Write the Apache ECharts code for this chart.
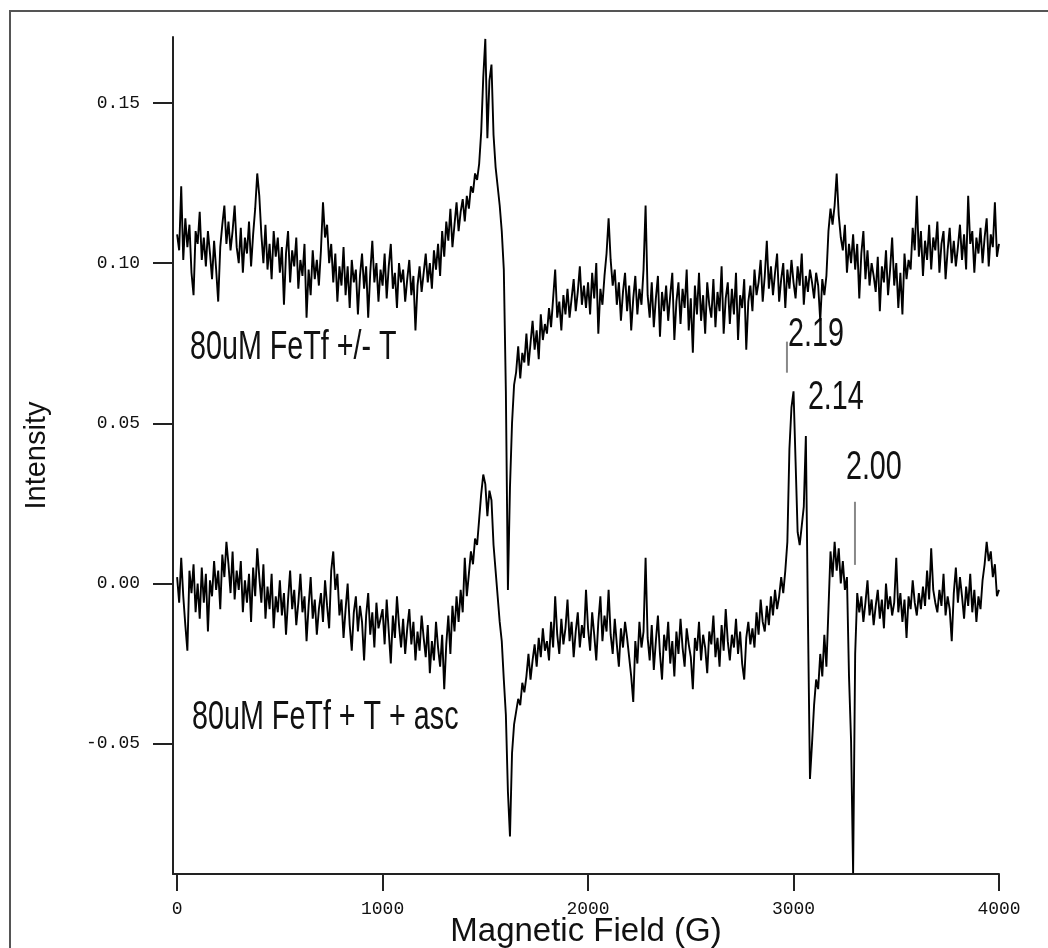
<!DOCTYPE html>
<html><head><meta charset="utf-8">
<script src="https://cdn.jsdelivr.net/npm/echarts@6/dist/echarts.min.js"></script>
<style>html,body{margin:0;padding:0;background:#fff;overflow:hidden}#c{width:1048px;height:948px}</style>
</head><body><div id="c"></div>
<script>
// Magnetic field sampling step (G); spectra start at 0 G
const fieldStepG = 10;
const xTicks = [0, 1000, 2000, 3000, 4000];
const yTicks = [-0.05, 0, 0.05, 0.10, 0.15];
const xTitle = 'Magnetic Field (G)';
const yTitle = 'Intensity';
const upperName = '80uM FeTf +/- T';
const lowerName = '80uM FeTf + T + asc';

// Upper spectrum: 80uM FeTf +/- T (0..4000 G)
const upperTrace = [
0.109,0.104,0.124,0.101,0.114,0.105,0.112,0.097,0.090,0.110,
0.106,0.116,0.101,0.108,0.099,0.110,0.103,0.095,0.107,0.098,
0.088,0.105,0.112,0.118,0.106,0.113,0.104,0.110,0.118,0.105,
0.100,0.111,0.097,0.108,0.103,0.113,0.099,0.109,0.117,0.128,
0.121,0.109,0.100,0.112,0.098,0.106,0.095,0.110,0.102,0.108,
0.097,0.105,0.087,0.103,0.110,0.094,0.104,0.099,0.108,0.092,
0.101,0.096,0.106,0.083,0.098,0.090,0.104,0.095,0.101,0.093,
0.104,0.119,0.108,0.112,0.100,0.106,0.094,0.103,0.088,0.099,
0.093,0.105,0.090,0.099,0.086,0.101,0.094,0.098,0.084,0.096,
0.103,0.092,0.099,0.083,0.097,0.107,0.094,0.100,0.088,0.098,
0.093,0.103,0.089,0.099,0.106,0.092,0.097,0.086,0.100,0.094,
0.098,0.088,0.095,0.101,0.090,0.096,0.079,0.093,0.099,0.091,
0.097,0.103,0.094,0.100,0.092,0.104,0.098,0.106,0.096,0.110,
0.102,0.113,0.107,0.117,0.105,0.112,0.119,0.110,0.116,0.120,
0.113,0.121,0.117,0.124,0.122,0.128,0.126,0.131,0.141,0.158,
0.170,0.139,0.157,0.162,0.140,0.130,0.124,0.118,0.110,0.098,
0.060,-0.002,0.030,0.050,0.062,0.066,0.074,0.064,0.072,0.069,
0.078,0.068,0.075,0.082,0.073,0.079,0.070,0.084,0.076,0.081,
0.078,0.086,0.080,0.089,0.098,0.083,0.088,0.079,0.090,0.084,
0.092,0.083,0.089,0.095,0.085,0.091,0.099,0.087,0.093,0.086,
0.094,0.084,0.097,0.089,0.100,0.078,0.092,0.087,0.096,0.103,
0.114,0.101,0.093,0.098,0.087,0.094,0.082,0.091,0.097,0.085,
0.093,0.079,0.089,0.096,0.084,0.092,0.087,0.098,0.118,0.090,
0.083,0.094,0.080,0.089,0.096,0.077,0.091,0.085,0.093,0.082,
0.090,0.097,0.076,0.088,0.094,0.081,0.092,0.086,0.098,0.079,
0.089,0.072,0.093,0.084,0.097,0.082,0.090,0.078,0.094,0.087,
0.083,0.095,0.080,0.091,0.085,0.099,0.078,0.089,0.094,0.081,
0.092,0.084,0.097,0.076,0.090,0.086,0.095,0.073,0.088,0.093,
0.085,0.098,0.090,0.094,0.101,0.088,0.096,0.107,0.092,0.099,
0.090,0.097,0.103,0.088,0.095,0.100,0.086,0.098,0.092,0.101,
0.094,0.089,0.099,0.093,0.103,0.087,0.096,0.091,0.098,0.094,
0.089,0.097,0.093,0.082,0.095,0.090,0.096,0.110,0.117,0.112,
0.118,0.128,0.115,0.108,0.104,0.112,0.097,0.106,0.100,0.109,
0.098,0.106,0.089,0.103,0.110,0.095,0.104,0.093,0.100,0.096,
0.091,0.102,0.085,0.099,0.094,0.104,0.090,0.098,0.108,0.093,
0.100,0.086,0.097,0.084,0.103,0.095,0.101,0.098,0.111,0.104,
0.121,0.102,0.110,0.096,0.107,0.101,0.112,0.098,0.108,0.104,
0.113,0.097,0.106,0.110,0.095,0.104,0.111,0.100,0.107,0.099,
0.105,0.112,0.101,0.109,0.098,0.121,0.106,0.110,0.097,0.108,
0.103,0.111,0.100,0.108,0.114,0.099,0.109,0.105,0.119,0.102,
0.106
];

// Lower spectrum: 80uM FeTf + T + asc (0..4000 G)
const lowerTrace = [
0.002,-0.006,0.008,-0.004,-0.013,-0.021,0.004,-0.003,0.006,-0.009,
0.000,-0.011,0.005,-0.006,0.003,-0.015,0.001,-0.004,0.007,-0.002,
0.004,-0.008,0.009,0.002,0.013,0.006,-0.003,0.010,-0.005,0.004,
-0.002,0.007,-0.009,0.001,-0.006,0.003,-0.012,0.005,-0.004,0.011,
0.002,-0.006,0.006,-0.011,-0.001,-0.008,0.003,-0.014,-0.004,-0.009,
0.001,-0.010,-0.003,-0.016,-0.005,0.004,-0.008,-0.002,-0.013,-0.006,
0.003,-0.009,-0.004,-0.018,-0.007,0.002,-0.011,-0.005,-0.016,-0.008,
-0.003,-0.012,0.001,-0.007,-0.014,0.004,0.010,-0.002,0.003,-0.010,
-0.005,-0.017,-0.008,0.000,-0.013,-0.021,-0.009,-0.004,-0.015,-0.007,
-0.012,-0.024,-0.010,-0.003,-0.016,-0.009,-0.020,-0.006,-0.014,-0.011,
-0.008,-0.019,-0.005,-0.015,-0.025,-0.010,-0.017,-0.004,-0.013,-0.020,
-0.011,-0.022,-0.014,-0.008,-0.019,-0.012,-0.024,-0.015,-0.021,-0.010,
-0.017,-0.023,-0.013,-0.028,-0.018,-0.024,-0.012,-0.020,-0.026,-0.016,
-0.033,-0.019,-0.010,-0.022,-0.007,-0.015,-0.004,-0.012,-0.002,-0.009,
0.008,-0.004,0.003,0.010,0.006,0.014,0.012,0.020,0.028,0.034,
0.031,0.021,0.029,0.026,0.012,0.004,-0.004,-0.012,-0.018,-0.030,
-0.041,-0.065,-0.079,-0.053,-0.044,-0.040,-0.036,-0.038,-0.031,-0.034,
-0.029,-0.022,-0.030,-0.024,-0.019,-0.026,-0.017,-0.023,-0.014,-0.021,
-0.018,-0.024,-0.012,-0.020,-0.004,-0.016,-0.022,-0.011,-0.019,-0.014,
-0.005,-0.018,-0.012,-0.023,-0.015,-0.009,-0.020,-0.013,-0.017,-0.002,
-0.014,-0.021,-0.009,-0.016,-0.024,-0.012,-0.004,-0.018,-0.010,-0.015,
-0.002,-0.016,-0.022,-0.011,-0.019,-0.026,-0.014,-0.020,-0.012,-0.017,
-0.023,-0.029,-0.037,-0.018,-0.025,-0.012,-0.020,-0.015,0.008,-0.017,
-0.024,-0.013,-0.027,-0.018,-0.010,-0.022,-0.030,-0.016,-0.021,-0.012,
-0.025,-0.018,-0.029,-0.015,-0.022,-0.011,-0.020,-0.026,-0.014,-0.019,
-0.023,-0.033,-0.017,-0.021,-0.012,-0.024,-0.016,-0.020,-0.028,-0.015,
-0.019,-0.010,-0.023,-0.017,-0.026,-0.013,-0.021,-0.008,-0.018,-0.024,
-0.016,-0.020,-0.011,-0.022,-0.015,-0.025,-0.030,-0.017,-0.012,-0.019,
-0.014,-0.020,-0.009,-0.016,-0.005,-0.012,-0.015,-0.007,-0.013,-0.004,
-0.010,-0.002,-0.008,-0.004,0.002,-0.003,0.004,0.013,0.042,0.055,
0.060,0.038,0.016,0.012,0.018,0.024,0.046,-0.010,-0.061,-0.050,
-0.038,-0.030,-0.033,-0.022,-0.029,-0.016,-0.026,-0.008,0.010,0.002,
0.013,0.004,0.011,0.000,0.007,-0.002,0.002,-0.029,-0.049,-0.0905,
-0.022,-0.003,-0.009,-0.004,-0.012,-0.006,0.001,-0.010,-0.005,-0.013,
-0.007,-0.002,-0.011,-0.005,-0.014,0.000,-0.008,-0.004,-0.010,-0.006,
0.008,-0.009,-0.003,-0.012,-0.005,-0.017,-0.004,-0.008,0.001,-0.006,
-0.010,-0.003,-0.008,-0.001,-0.007,0.004,-0.005,0.011,-0.002,-0.006,
-0.009,-0.002,-0.007,0.003,-0.010,-0.004,-0.008,-0.018,-0.003,0.005,
-0.006,0.002,-0.004,-0.011,-0.001,-0.007,0.003,-0.009,-0.002,-0.012,
-0.004,-0.008,0.001,0.006,0.013,0.007,0.010,0.002,0.006,-0.004,
-0.002
];

// g-value annotations: label text, anchor [field G, intensity] of label's left-middle
const gLabels = ['2.19', '2.14', '2.00'];
const gLabelAnchors = [[2973, 0.0777], [3070, 0.0580], [3255, 0.0361]];
// g-value marker ticks: [field G, top intensity, bottom intensity]
const gMarkers = [[2968, 0.0755, 0.0658], [3299, 0.0255, 0.0058]];
// sample-name anchors [field G, intensity] (left-middle of text)
const nameAnchors = [[63, 0.0736], [73, -0.0419]];

const field = upperTrace.map((_, i) => i * fieldStepG);
const upperData = field.map((f, i) => [f, upperTrace[i]]);
const lowerData = field.map((f, i) => [f, lowerTrace[i]]);

const chart = echarts.init(document.getElementById('c'), null, {renderer: 'canvas'});
const axisColor = '#222';
chart.setOption({
  animation: false,
  backgroundColor: '#fff',
  grid: {left: 173, right: 49, top: 37, bottom: 74, containLabel: false, outerBoundsMode: 'none'},
  xAxis: {
    type: 'value', min: -20, max: 4000,
    axisLine: {show: true, onZero: false, lineStyle: {color: axisColor, width: 2}},
    axisTick: {show: true, customValues: xTicks, length: 17, lineStyle: {color: axisColor, width: 2}},
    axisLabel: {customValues: xTicks, margin: 26, fontFamily: 'Liberation Mono', fontSize: 18, color: '#111',
      formatter: v => String(v)},
    splitLine: {show: false},
    name: xTitle, nameLocation: 'middle', nameGap: 41, nameMoveOverlap: false,
    nameTextStyle: {fontFamily: 'Liberation Sans', fontSize: 33, color: '#111'}
  },
  yAxis: {
    type: 'value', min: -0.0907, max: 0.1706,
    axisLine: {show: true, onZero: false, lineStyle: {color: axisColor, width: 2}},
    axisTick: {show: true, customValues: yTicks, length: 20, lineStyle: {color: axisColor, width: 2}},
    axisLabel: {customValues: yTicks, margin: 33, fontFamily: 'Liberation Mono', fontSize: 18, color: '#111',
      formatter: v => v.toFixed(2)},
    splitLine: {show: false},
    name: yTitle, nameLocation: 'middle', nameGap: 122, nameMoveOverlap: false,
    nameTextStyle: {fontFamily: 'Liberation Sans', fontSize: 29, color: '#111'}
  },
  series: [
    {name: upperName, type: 'line', data: upperData, showSymbol: false, clip: true,
     lineStyle: {color: '#000', width: 1.9}},
    {name: lowerName, type: 'line', data: lowerData, showSymbol: false, clip: true,
     lineStyle: {color: '#000', width: 1.9}}
  ]
});

const px = p => chart.convertToPixel({gridIndex: 0}, p);
const graphics = [
  {type: 'rect', silent: true, shape: {x: 10, y: 11, width: 1100, height: 1000},
   style: {fill: 'none', stroke: '#555', lineWidth: 2}}
];
const textEl = (txt, anchor) => {
  const p = px(anchor);
  return {type: 'text', x: p[0], y: p[1], scaleX: 0.7, silent: true,
    style: {text: txt, fill: '#111', font: '41px "Liberation Sans", Arial, sans-serif',
      align: 'left', verticalAlign: 'middle', textAlign: 'left', textVerticalAlign: 'middle'}};
};
graphics.push(textEl(upperName, nameAnchors[0]));
graphics.push(textEl(lowerName, nameAnchors[1]));
gLabels.forEach((t, i) => graphics.push(textEl(t, gLabelAnchors[i])));
gMarkers.forEach(m => {
  const a = px([m[0], m[1]]), b = px([m[0], m[2]]);
  graphics.push({type: 'line', silent: true, shape: {x1: a[0], y1: a[1], x2: b[0], y2: b[1]},
    style: {stroke: '#888', lineWidth: 2}});
});
chart.setOption({graphic: graphics});
</script>
</body></html>
